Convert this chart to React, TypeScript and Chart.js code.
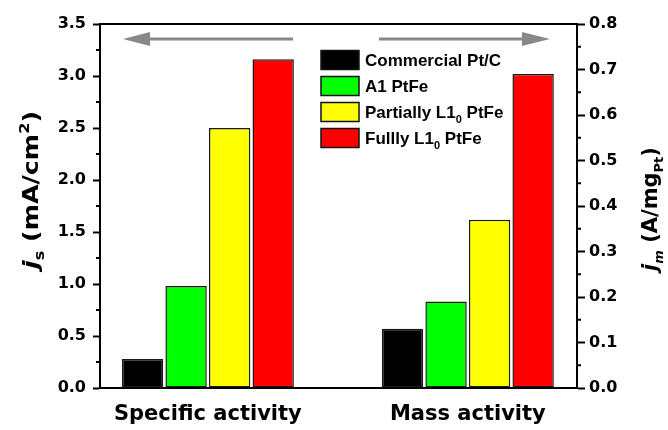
import React, { useEffect, useRef } from 'react';
import { Chart, registerables } from 'chart.js';

Chart.register(...registerables);

// ---- data ----
const CATEGORIES = ['Specific activity', 'Mass activity'];
const CATEGORY_POS = [1, 2];
const SERIES = ['Commercial Pt/C', 'A1 PtFe', 'Partially L1₀ PtFe', 'Fullly L1₀ PtFe'];
const COLORS = ['#000000', '#00ff00', '#ffff00', '#ff0000'];
const SPECIFIC_ACTIVITY = [0.28, 0.98, 2.5, 3.16]; // mA/cm2 (left axis)
const MASS_ACTIVITY = [0.13, 0.19, 0.37, 0.69]; // A/mgPt (right axis)
const LEFT_RANGE = [0, 3.5];
const LEFT_STEP = 0.5;
const RIGHT_RANGE = [0, 0.8];
const RIGHT_STEP = 0.1;
const X_RANGE = [0.585, 2.42];

type Part = { t: string; sub?: boolean; sup?: boolean; italic?: boolean };
const LEFT_TITLE: Part[] = [
  { t: 'j', italic: true },
  { t: 's', sub: true },
  { t: ' (mA/cm' },
  { t: '2', sup: true },
  { t: ')' },
];
const RIGHT_TITLE: Part[] = [
  { t: 'j', italic: true },
  { t: 'm', sub: true, italic: true },
  { t: ' (A/mg' },
  { t: 'Pt', sub: true },
  { t: ')' },
];

const TICK_FONT = { family: 'DejaVu Sans', weight: 'bold' as const, size: 16 };
const X_FONT = { family: 'DejaVu Sans', weight: 'bold' as const, size: 21 };

function drawParts(
  ctx: CanvasRenderingContext2D,
  parts: Part[],
  family: string,
  size: number,
  x: number,
  y: number,
  align: 'left' | 'center'
) {
  const fontFor = (p: Part) => {
    const s = p.sub || p.sup ? Math.round(size * 0.62) : size;
    return `${p.italic ? 'italic ' : ''}bold ${s}px "${family}"`;
  };
  let total = 0;
  const widths = parts.map((p) => {
    ctx.font = fontFor(p);
    const w = ctx.measureText(p.t).width;
    total += w;
    return w;
  });
  let cx = align === 'center' ? x - total / 2 : x;
  ctx.textBaseline = 'alphabetic';
  ctx.textAlign = 'left';
  parts.forEach((p, i) => {
    ctx.font = fontFor(p);
    const dy = p.sub ? size * 0.28 : p.sup ? -size * 0.42 : 0;
    ctx.fillText(p.t, cx, y + dy);
    cx += widths[i];
  });
}

function labelToParts(label: string): Part[] {
  const parts: Part[] = [];
  const re = /([\u2080-\u2089]+)/;
  label.split(re).forEach((seg) => {
    if (!seg) return;
    if (re.test(seg)) {
      const digits = Array.from(seg)
        .map((c) => String.fromCharCode(c.charCodeAt(0) - 0x2080 + 48))
        .join('');
      parts.push({ t: digits, sub: true });
    } else {
      parts.push({ t: seg });
    }
  });
  return parts;
}

const decorPlugin = {
  id: 'decor',
  afterDraw(chart: any) {
    const { ctx, chartArea } = chart;
    const { left, right, top } = chartArea;
    ctx.save();

    // top frame line
    ctx.strokeStyle = '#000';
    ctx.lineWidth = 2;
    ctx.beginPath();
    ctx.moveTo(left - 1, top);
    ctx.lineTo(right + 1, top);
    ctx.stroke();

    // minor ticks
    const minor = (scale: any, dir: number, x0: number) => {
      const ticks = scale.ticks;
      ctx.lineWidth = 2;
      ctx.strokeStyle = '#000';
      for (let i = 0; i < ticks.length - 1; i++) {
        const mid = (ticks[i].value + ticks[i + 1].value) / 2;
        const py = scale.getPixelForValue(mid);
        ctx.beginPath();
        ctx.moveTo(x0, py);
        ctx.lineTo(x0 + dir * 4, py);
        ctx.stroke();
      }
    };
    minor(chart.scales.y, -1, left);
    minor(chart.scales.y1, 1, right);

    // arrows
    const arrow = (tail: number, base: number, tip: number, y: number) => {
      ctx.strokeStyle = '#888888';
      ctx.fillStyle = '#888888';
      ctx.lineWidth = 3;
      ctx.beginPath();
      ctx.moveTo(tail, y);
      ctx.lineTo(base, y);
      ctx.stroke();
      ctx.beginPath();
      ctx.moveTo(tip, y);
      ctx.lineTo(base, y - 7);
      ctx.lineTo(base, y + 7);
      ctx.closePath();
      ctx.fill();
    };
    const ay = top + 15;
    arrow(left + 193, left + 50, left + 23, ay);
    arrow(right - 198, right - 55, right - 27, ay);

    // legend
    const lx = left + 221;
    const ly0 = top + 36;
    SERIES.forEach((name, i) => {
      const cy = ly0 + i * 26;
      ctx.fillStyle = COLORS[i];
      ctx.fillRect(lx, cy - 9.5, 38, 19);
      ctx.strokeStyle = '#111';
      ctx.lineWidth = 1.5;
      ctx.strokeRect(lx, cy - 9.5, 38, 19);
      ctx.fillStyle = '#000';
      drawParts(ctx, labelToParts(name), 'Liberation Sans', 17, lx + 44, cy + 6, 'left');
    });

    // axis titles (rotated)
    ctx.fillStyle = '#000';
    ctx.save();
    ctx.translate(38, (top + chartArea.bottom) / 2 - 16);
    ctx.rotate(-Math.PI / 2);
    ctx.scale(1.15, 1);
    drawParts(ctx, LEFT_TITLE, 'DejaVu Sans', 22, 0, 0, 'center');
    ctx.restore();

    ctx.save();
    ctx.translate(657, (top + chartArea.bottom) / 2 + 3);
    ctx.rotate(-Math.PI / 2);
    drawParts(ctx, RIGHT_TITLE, 'DejaVu Sans', 21, 0, 0, 'center');
    ctx.restore();

    ctx.restore();
  },
};

export default function App() {
  const ref = useRef<HTMLCanvasElement | null>(null);

  useEffect(() => {
    if (!ref.current) return;
    const datasets: any[] = [];
    SERIES.forEach((name, i) => {
      const common = {
        label: name,
        stack: name,
        backgroundColor: COLORS[i],
        borderColor: '#1a1a1a',
        borderWidth: 1.5,
        borderSkipped: false,
        categoryPercentage: 0.67,
        barPercentage: 0.95,
      };
      datasets.push({
        ...common,
        yAxisID: 'y',
        data: [{ x: CATEGORY_POS[0], y: SPECIFIC_ACTIVITY[i] }],
      });
      datasets.push({
        ...common,
        yAxisID: 'y1',
        data: [{ x: CATEGORY_POS[1], y: MASS_ACTIVITY[i] }],
      });
    });

    const chart = new Chart(ref.current, {
      type: 'bar',
      data: { datasets },
      plugins: [decorPlugin],
      options: {
        animation: false,
        responsive: false,
        maintainAspectRatio: false,
        events: [],
        layout: { padding: { top: 24, left: 0, right: 0, bottom: 0 } },
        plugins: {
          legend: { display: false },
          tooltip: { enabled: false },
          title: { display: false },
        },
        scales: {
          x: {
            type: 'linear',
            min: X_RANGE[0],
            max: X_RANGE[1],
            offset: false,
            afterBuildTicks: (s: any) => {
              s.ticks = CATEGORY_POS.map((v) => ({ value: v }));
            },
            afterFit: (s: any) => {
              s.height = 42;
            },
            grid: { display: true, drawOnChartArea: false, drawTicks: false, offset: false },
            border: { display: true, color: '#000', width: 2 },
            ticks: {
              callback: (_v: any, i: number) => CATEGORIES[i],
              font: X_FONT,
              color: '#000',
              padding: 14,
              maxRotation: 0,
              autoSkip: false,
            },
          },
          y: {
            type: 'linear',
            position: 'left',
            min: LEFT_RANGE[0],
            max: LEFT_RANGE[1],
            stacked: false,
            afterFit: (s: any) => {
              s.width = 100;
            },
            grid: { drawOnChartArea: false, tickLength: 7, tickWidth: 2, tickColor: '#000' },
            border: { display: true, color: '#000', width: 2 },
            ticks: {
              stepSize: LEFT_STEP,
              callback: (v: any) => Number(v).toFixed(1),
              font: TICK_FONT,
              color: '#000',
              padding: 7,
            },
          },
          y1: {
            type: 'linear',
            position: 'right',
            min: RIGHT_RANGE[0],
            max: RIGHT_RANGE[1],
            stacked: false,
            afterFit: (s: any) => {
              s.width = 91;
            },
            grid: { drawOnChartArea: false, tickLength: 8, tickWidth: 2, tickColor: '#000' },
            border: { display: true, color: '#000', width: 2 },
            ticks: {
              stepSize: RIGHT_STEP,
              callback: (v: any) => Number(v).toFixed(1),
              font: TICK_FONT,
              color: '#000',
              padding: 4,
            },
          },
        },
      } as any,
    });
    return () => chart.destroy();
  }, []);

  return (
    <div style={{ position: 'fixed', left: 0, top: 0, width: 668, height: 430, background: '#fff' }}>
      <canvas ref={ref} width={668} height={430} style={{ display: 'block', width: 668, height: 430 }} />
    </div>
  );
}
